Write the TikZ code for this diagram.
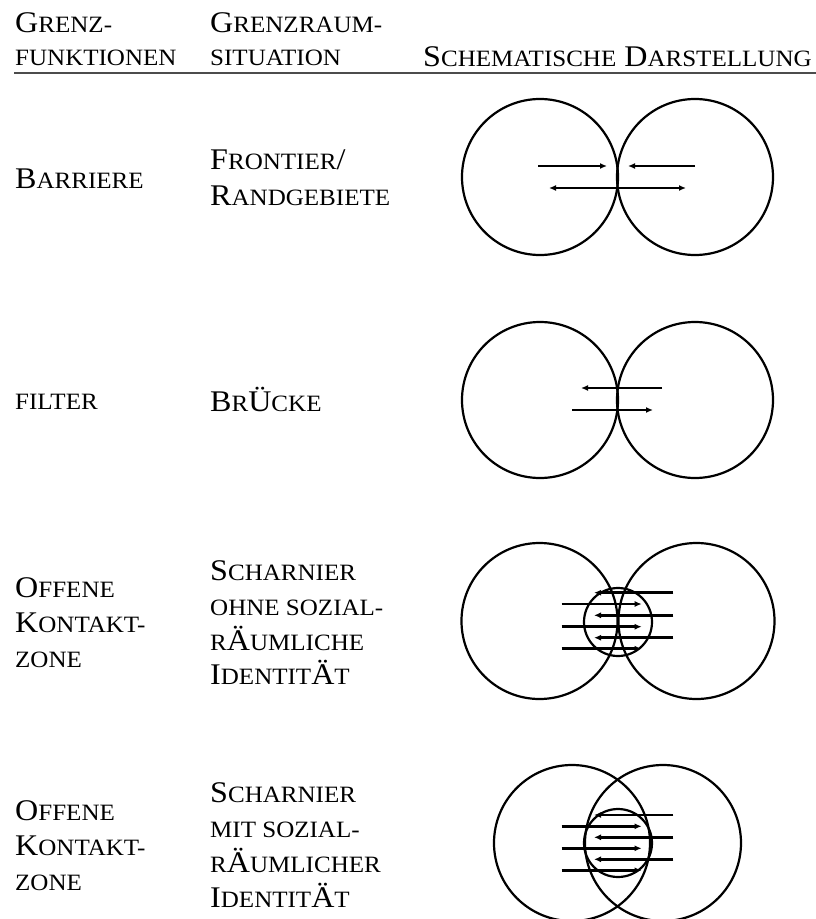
\documentclass[tikz,border=0pt]{standalone}
\usepackage{fontspec}
\setmainfont[FakeStretch=1.07]{Liberation Serif}
\usetikzlibrary{arrows.meta}
\newcommand\smc[1]{{\fontsize{23.4}{23.4}\selectfont #1}}
\tikzset{
  lbl/.style={anchor=base west, inner sep=0pt, font=\fontsize{30}{30}\selectfont},
  ring/.style={line width=2.2pt},
  arr/.style={line width=2.5pt, -{Latex[length=7pt,width=6pt]}},
  darr/.style={line width=2.5pt, {Latex[length=7pt,width=6pt]}-{Latex[length=7pt,width=6pt]}},
}
\begin{document}
\begin{tikzpicture}[x=1pt,y=-1pt]
\fill[white] (0,0) rectangle (816,919);
\useasboundingbox (0,0) rectangle (816,919);
% header
\node[lbl] (h1a) at (15,32) {G\smc{RENZ-}};
\node[lbl] (h1b) at (15,65) {\smc{FUNKTIONEN}};
\node[lbl] (h2a) at (210,32) {G\smc{RENZRAUM-}};
\node[lbl] (h2b) at (210,65) {\smc{SITUATION}};
\node[lbl] (h3) at (423,66) {S\smc{CHEMATISCHE} D\smc{ARSTELLUNG}};
\draw[gray!60!black, line width=1.2pt] (14,73) -- (816,73);
% row 1
\node[lbl] (r1a) at (15,188) {B\smc{ARRIERE}};
\node[lbl] (r1b) at (210,169) {F\smc{RONTIER}/};
\node[lbl] (r1c) at (210,205) {R\smc{ANDGEBIETE}};
% row 2
\node[lbl] (r2a) at (15,409) {\smc{FILTER}};
\node[lbl] (r2b) at (210,411) {B\smc{R}Ü\smc{CKE}};
% row 3
\node[lbl] (r3a) at (15,597) {O\smc{FFENE}};
\node[lbl] (r3b) at (15,632) {K\smc{ONTAKT-}};
\node[lbl] (r3c) at (15,667) {\smc{ZONE}};
\node[lbl] (r3d) at (210,580) {S\smc{CHARNIER}};
\node[lbl] (r3e) at (210,615) {\smc{OHNE SOZIAL-}};
\node[lbl] (r3f) at (210,650) {\smc{R}Ä\smc{UMLICHE}};
\node[lbl] (r3g) at (210,684) {I\smc{DENTIT}Ä\smc{T}};
% row 4
\node[lbl] (r4a) at (15,820) {O\smc{FFENE}};
\node[lbl] (r4b) at (15,855) {K\smc{ONTAKT-}};
\node[lbl] (r4c) at (15,890) {\smc{ZONE}};
\node[lbl] (r4d) at (210,802) {S\smc{CHARNIER}};
\node[lbl] (r4e) at (210,837) {\smc{MIT SOZIAL-}};
\node[lbl] (r4f) at (210,872) {\smc{R}Ä\smc{UMLICHER}};
\node[lbl] (r4g) at (210,907) {I\smc{DENTIT}Ä\smc{T}};
% diagram 1
\draw[ring] (540,177) circle (78);
\draw[ring] (695,177) circle (78);
\draw[arr] (538,166) -- (607,166);
\draw[arr] (695,166) -- (628,166);
\draw[darr] (549,188) -- (686,188);
% diagram 2
\draw[ring] (540,400) circle (78);
\draw[ring] (695,400) circle (78);
\draw[arr] (662,388) -- (581,388);
\draw[arr] (572,410) -- (653,410);
% diagram 3
\draw[ring] (539.5,621) circle (78);
\draw[ring] (696.5,621) circle (78);
\draw[ring] (618,622) circle (34);
\foreach \y in {592.7,615.3,637.7} \draw[arr] (673.3,\y) -- (594,\y);
\foreach \y in {604,626.7,648.7} \draw[arr] (561.7,\y) -- (641.7,\y);
% diagram 4
\draw[ring] (572,843) circle (78);
\draw[ring] (663,843) circle (78);
\draw[ring] (618,843) circle (34);
\foreach \y in {815,837.3,859.3} \draw[arr] (673.3,\y) -- (594,\y);
\foreach \y in {826.3,848.3,870.3} \draw[arr] (561.7,\y) -- (641.7,\y);
\end{tikzpicture}
\end{document}
